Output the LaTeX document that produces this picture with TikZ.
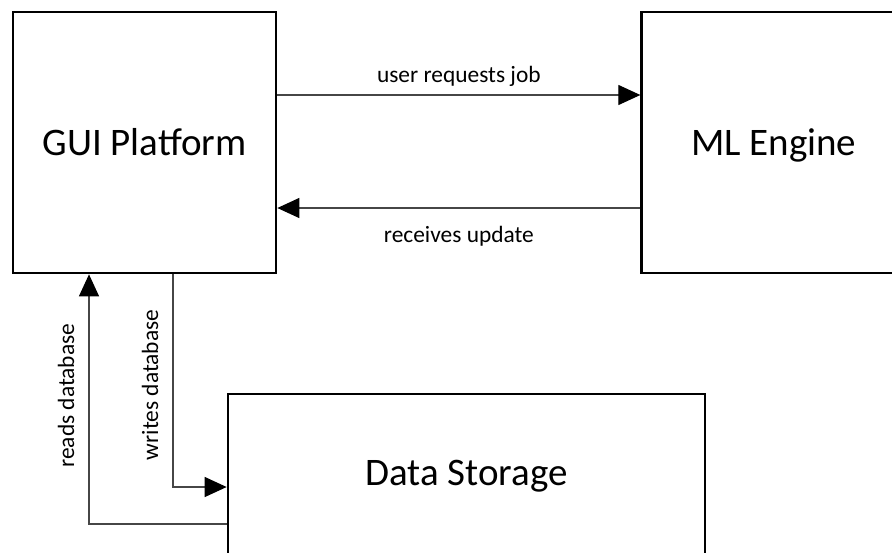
\documentclass[tikz,border=0pt]{standalone}
\usepackage{fontspec}
\setmainfont{Carlito}
\usepackage{tikz}
\usetikzlibrary{positioning,arrows.meta}
\definecolor{linkgray}{RGB}{70,70,70}

\begin{document}
\begin{tikzpicture}[x=0.5pt, y=-0.5pt, >={Triangle[length=11pt,width=10pt,color=black]}]
  \tikzstyle{blk}=[rectangle,draw=black,line width=1.35pt,minimum width=131.5pt,minimum height=130.5pt,align=center,fill=white,font=\fontsize{19.5}{23}\selectfont,text height=17.55pt,text depth=5.05pt]
  \tikzstyle{link}=[->,draw=linkgray,line width=0.6pt]
  \tikzstyle{lbl}=[font=\fontsize{11.7}{14}\selectfont,inner sep=2pt]
  \useasboundingbox (0,0) rectangle (892,552);
  \clip (0,0) rectangle (892,552);

  \node[blk] (gui) at (144.5,142.5) {GUI Platform};
  \node[blk,right=181.5pt of gui,minimum width=132pt] (ml) {ML Engine};
  \node[blk,minimum width=238.5pt,minimum height=86pt,text depth=12.55pt] (store) at (466.5,480) {Data Storage};

  \draw[link] ([yshift=23.75pt]gui.east) -- node[lbl,above=2pt] {user requests job} ([yshift=23.75pt]ml.west);
  \draw[link] ([yshift=-32.75pt]ml.west) -- node[lbl,below=7pt] {receives update} ([yshift=-32.75pt]gui.east);
  \draw[link] ([xshift=14.25pt]gui.south) |- node[lbl,pos=0.26,rotate=90,anchor=south,inner sep=7pt] {writes database} ([yshift=-3.5pt]store.west);
  \draw[link] ([yshift=-22pt]store.west) -| node[lbl,pos=0.757,rotate=90,anchor=south,inner sep=7pt] {reads database} ([xshift=-27.75pt]gui.south);
\end{tikzpicture}
\end{document}
